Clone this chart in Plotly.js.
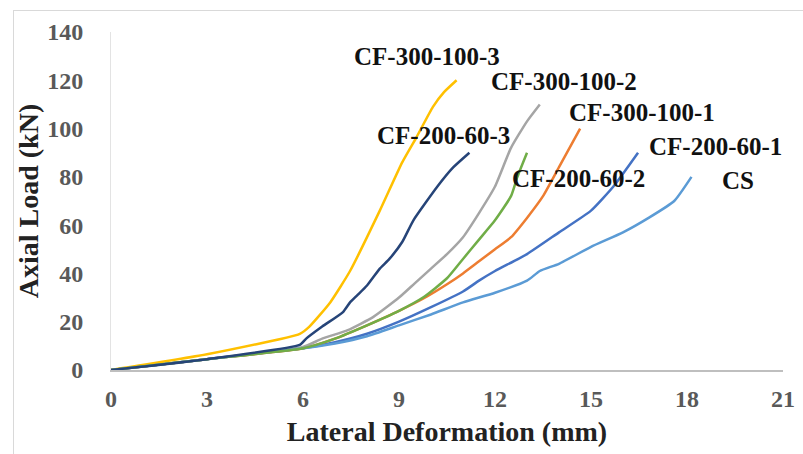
<!DOCTYPE html>
<html>
<head>
<meta charset="utf-8">
<script src="https://cdn.plot.ly/plotly-3.0.1.min.js"></script>
<style>
  html, body { margin:0; padding:0; background:#fff; overflow:hidden; }
  #frame { position:absolute; left:13px; top:10px; width:800px; height:470px; border:1px solid #d9d9d9; box-sizing:border-box; }
  #chart { position:absolute; left:0; top:0; width:803px; height:454px; }
</style>
</head>
<body>
<div id="frame"></div>
<div id="chart"></div>
<script>
// Series names
const seriesNames = ["CF-200-60-1","CF-300-100-1","CF-300-100-2","CF-300-100-3","CS","CF-200-60-2","CF-200-60-3"];
const seriesColors = ["#4472C4","#ED7D31","#A5A5A5","#FFC000","#5B9BD5","#70AD47","#264478"];

// Lateral deformation (mm) and axial load (kN) for each series
const cf200_60_1_x = [0,3,6,7,8,9,10,11,11.5,12,13,14,15,15.7,16.47];
const cf200_60_1_y = [0,4.5,9,11.5,15,20,26,32.5,37,41,48,57,66,76,90];

const cf300_100_1_x = [0,3,6,7,8,9,9.75,10.5,11,11.5,12,12.5,13,13.5,14,14.66];
const cf300_100_1_y = [0,4.5,9,13,18.5,24.5,29.5,35.5,40,45,50,55,63,72,84,100];

const cf300_100_2_x = [0,3,6,6.6,7.4,8.2,9,9.5,10,10.5,11,11.5,12,12.5,13,13.4];
const cf300_100_2_y = [0,4.5,9.5,13,16.5,22,30,36,42,48,55,65,76,92,103,110];

const cf300_100_3_x = [0,3,5.9,6.2,6.85,7.47,8.4,9.1,9.55,10.06,10.4,10.8];
const cf300_100_3_y = [0,6.5,15,18,28,41,66,86,96.5,109,115,120];

const cs_x = [0,3,6,7,8,9,10,11,12,13,13.4,14,15,16,16.8,17.6,18.14];
const cs_y = [0,4.5,9,11,14,18.5,23,28,32,37,41,44,51,57,63,70,80];

const cf200_60_2_x = [0,3,6,7,8,9,9.75,10.5,11,11.5,12,12.5,12.7,13];
const cf200_60_2_y = [0,4.5,9,13,18.5,24.5,30,38,46,54,62,72,80,90];

const cf200_60_3_x = [0,3,5.9,6.1,6.6,7.25,7.47,7.7,8,8.4,8.7,9.1,9.45,10.2,10.7,11.2];
const cf200_60_3_y = [0,4.5,10.4,13,18,24,28,31,35,42,46,53,62,76,84,90];

const seriesX = [cf200_60_1_x, cf300_100_1_x, cf300_100_2_x, cf300_100_3_x, cs_x, cf200_60_2_x, cf200_60_3_x];
const seriesY = [cf200_60_1_y, cf300_100_1_y, cf300_100_2_y, cf300_100_3_y, cs_y, cf200_60_2_y, cf200_60_3_y];

// Label positions (data coordinates)
const labelText = ["CF-300-100-3","CF-300-100-2","CF-300-100-1","CF-200-60-3","CF-200-60-1","CF-200-60-2","CS"];
const labelX = [9.875,14.16,16.6,10.4,18.9,14.6,19.6];
const labelY = [129.7,119.7,106.5,97,92.4,79.5,78.3];

const xTicks = [0,3,6,9,12,15,18,21];
const yTicks = [0,20,40,60,80,100,120,140];

const serif = "'Liberation Serif', 'Times New Roman', serif";

const traces = seriesNames.map((n, i) => ({
  type: 'scatter', mode: 'lines', name: n,
  x: seriesX[i], y: seriesY[i],
  line: { color: seriesColors[i], width: 2.5, shape: 'spline', smoothing: 0.5 },
  hoverinfo: 'skip'
}));

const annotations = labelText.map((t, i) => ({
  x: labelX[i], y: labelY[i], xref: 'x', yref: 'y', text: t, showarrow: false,
  font: { family: serif, size: 25, color: '#111', weight: 'bold' }
}));

const layout = {
  width: 803, height: 454,
  margin: { l: 111, r: 20, t: 32, b: 84 },
  paper_bgcolor: 'rgba(0,0,0,0)', plot_bgcolor: 'rgba(0,0,0,0)',
  showlegend: false,
  xaxis: {
    range: [0, 21], tickvals: xTicks, ticktext: xTicks.map(String),
    showgrid: false, zeroline: false, showline: true, linecolor: '#bfbfbf', linewidth: 1.5,
    ticks: '', ticklabelstandoff: 7,
    tickfont: { family: serif, size: 24, color: '#595959', weight: 'bold' },
    title: { text: 'Lateral Deformation (mm)', standoff: 10,
      font: { family: serif, size: 28, color: '#222', weight: 'bold' } }
  },
  yaxis: {
    range: [0, 140], tickvals: yTicks, ticktext: yTicks.map(String),
    showgrid: false, zeroline: false, showline: true, linecolor: '#e3e3e3', linewidth: 1,
    ticks: '', ticklabelstandoff: 22,
    tickfont: { family: serif, size: 24, color: '#595959', weight: 'bold' },
    title: { text: 'Axial Load (kN)', standoff: 0,
      font: { family: serif, size: 28, color: '#222', weight: 'bold' } }
  },
  annotations: annotations
};

Plotly.newPlot('chart', traces, layout, { staticPlot: true, displayModeBar: false });
</script>
</body>
</html>
